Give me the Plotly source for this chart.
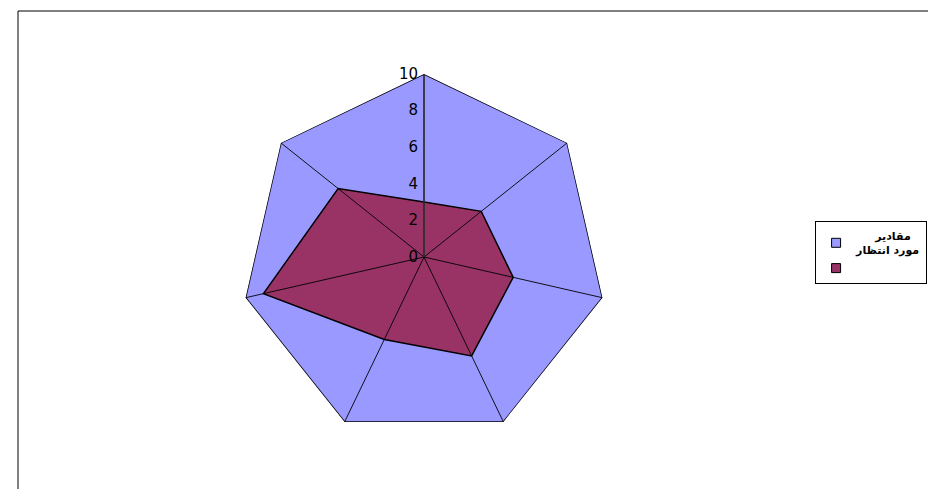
import plotly.graph_objects as go

categories = ["1", "2", "3", "4", "5", "6", "7"]
expected_values = [10, 10, 10, 10, 10, 10, 10]
actual_values = [3, 4, 5, 6, 5, 9, 6]
series_names = ["<b>\u00a0\u00a0\u00a0\u00a0\u00a0مقادیر<br>مورد انتظار</b>", " "]
series_colors = ["#9999FF", "#993366"]
radial_ticks = [0, 2, 4, 6, 8, 10]

def closed(lst):
    return list(lst) + [lst[0]]

fig = go.Figure()
for vals, col in zip([expected_values, actual_values], series_colors):
    fig.add_trace(go.Scatterpolar(
        r=closed(vals), theta=closed(categories),
        mode="lines", fill="toself", fillcolor=col,
        line=dict(color="black", width=1.5), showlegend=False, hoverinfo="skip",
    ))
for c in categories:
    fig.add_trace(go.Scatterpolar(
        r=[0, max(expected_values)], theta=[c, c], mode="lines",
        line=dict(color="black", width=0.9), showlegend=False, hoverinfo="skip",
    ))
# legend entries
for name, col in zip(series_names, series_colors):
    fig.add_trace(go.Scatterpolar(
        r=[None], theta=[None], mode="markers", name=name,
        marker=dict(symbol="square", size=9, color=col, line=dict(color="black", width=1)),
    ))

OFF = 8  # page body margin
W, H = 936 - 2 * OFF, 497 - 2 * OFF
cx, cy, R = 424 - OFF, 257 - OFF, 183

def px(x):
    return x / W

def py(y):
    return 1 - y / H

fig.update_layout(
    width=W, height=H,
    margin=dict(l=0, r=0, t=0, b=0),
    paper_bgcolor="white", plot_bgcolor="white",
    polar=dict(
        domain=dict(x=[px(cx - R), px(cx + R)], y=[py(cy + R), py(cy - R)]),
        bgcolor="rgba(0,0,0,0)",
        gridshape="linear",
        angularaxis=dict(direction="clockwise", rotation=90, showticklabels=False,
                         ticks="", showgrid=False, showline=False),
        radialaxis=dict(range=[0, 10], tickvals=radial_ticks, angle=90, tickangle=90,
                        showgrid=False, showline=True, linecolor="#333333", linewidth=1.5,
                        ticks="", side="counterclockwise",
                        tickfont=dict(family="DejaVu Sans", size=15, color="black")),
    ),
    legend=dict(x=0.999, y=py(221 - OFF), xanchor="right", yanchor="top",
                bordercolor="black", borderwidth=1, bgcolor="white",
                font=dict(family="DejaVu Sans", size=11, color="black"),
                itemwidth=30),
    shapes=[dict(type="rect", xref="paper", yref="paper",
                 x0=px(18 - OFF), x1=1.02, y0=-0.02, y1=py(11 - OFF),
                 line=dict(color="black", width=1))],
)
fig.write_html("out.html")
